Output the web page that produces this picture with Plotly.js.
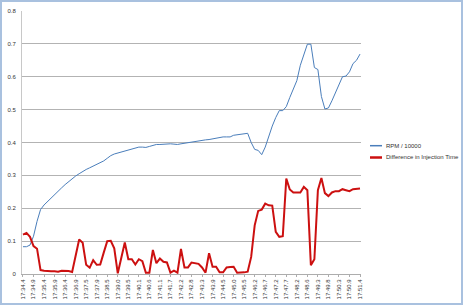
<!DOCTYPE html>
<html><head><meta charset="utf-8">
<script src="https://cdn.plot.ly/plotly-3.0.1.min.js"></script>
<style>
html,body{margin:0;padding:0;background:#fff}
#wrap{position:relative;width:463px;height:305px;overflow:hidden}
#chart{width:463px;height:305px}
#frame{position:absolute;left:0;top:0;width:463px;height:305px;box-sizing:border-box;border:2px solid #A9C1DF;pointer-events:none}
</style>
</head><body>
<div id="wrap"><div id="chart"></div><div id="frame"></div></div>
<script>
const tickLabels = ["17:34.4","17:34.9","17:35.4","17:35.9","17:36.4","17:36.9","17:37.5","17:37.9","17:38.5","17:39.0","17:39.5","17:40.1","17:40.6","17:41.1","17:41.7","17:42.2","17:42.8","17:43.3","17:43.9","17:44.5","17:45.0","17:45.5","17:46.2","17:46.7","17:47.2","17:47.7","17:48.2","17:48.6","17:49.3","17:49.8","17:50.3","17:50.9","17:51.4"];
const seriesNames = ["RPM / 10000", "Difference in Injection Time"];
const rpm = [
0.083,0.083,0.088,0.115,0.160,0.196,0.210,0.221,0.231,0.241,
0.252,0.262,0.272,0.281,0.290,0.298,0.305,0.312,0.318,0.323,
0.328,0.332,0.337,0.344,0.352,0.360,0.365,0.368,0.372,0.375,
0.378,0.381,0.384,0.386,0.386,0.385,0.388,0.391,0.394,0.394,
0.395,0.396,0.396,0.395,0.394,0.396,0.398,0.399,0.400,0.403,
0.406,0.408,0.408,0.409,0.411,0.414,0.417,0.417,0.417,0.417,
0.422,0.424,0.425,0.427,0.428,0.400,0.379,0.376,0.363,0.386,
0.420,0.450,0.476,0.497,0.497,0.509,0.537,0.562,0.588,0.635,
0.668,0.699,0.699,0.628,0.622,0.540,0.502,0.505,0.527,0.550,
0.578,0.600,0.602,0.615,0.640,0.650,0.669];
const injDiff = [
0.120,0.125,0.113,0.085,0.077,0.012,0.010,0.008,0.008,0.008,
0.007,0.010,0.010,0.009,0.006,0.055,0.105,0.095,0.028,0.019,
0.042,0.028,0.029,0.065,0.100,0.101,0.078,0.002,0.045,0.096,
0.045,0.045,0.029,0.045,0.039,0.004,0.004,0.073,0.033,0.047,
0.037,0.035,0.004,0.010,0.004,0.076,0.020,0.020,0.035,0.034,
0.031,0.020,0.004,0.063,0.022,0.022,0.005,0.005,0.020,0.021,
0.022,0.004,0.004,0.005,0.007,0.052,0.148,0.192,0.196,0.214,
0.209,0.208,0.128,0.113,0.115,0.290,0.257,0.248,0.248,0.248,
0.265,0.255,0.027,0.045,0.255,0.292,0.246,0.237,0.248,0.252,
0.252,0.258,0.255,0.252,0.258,0.260,0.260];
const tickStep = 3;

const xs = rpm.map((_, i) => i);
const tickVals = tickLabels.map((_, k) => k * tickStep);

const M = {l: 22, r: 102, t: 11, b: 31};
const W = 463, H = 305;
const pw = W - M.l - M.r, ph = H - M.t - M.b;
const px = x => (x - M.l) / pw;
const py = y => (H - M.b - y) / ph;

const colors = ["#4A7EBB", "#CC1010"];
const widths = [1, 2];

const traces = [
  {x: xs, y: rpm, type: "scatter", mode: "lines", name: seriesNames[0], line: {color: colors[0], width: widths[0]}},
  {x: xs, y: injDiff, type: "scatter", mode: "lines", name: seriesNames[1], line: {color: colors[1], width: widths[1]}}
];

const legY = [145.7, 157.5];
const shapes = legY.map((yy, k) => ({type: "line", xref: "paper", yref: "paper",
  x0: px(370), x1: px(382), y0: py(yy), y1: py(yy), line: {color: colors[k], width: k === 0 ? 1.5 : 2.5}}));
const annotations = legY.map((yy, k) => ({xref: "paper", yref: "paper", x: px(383.5), y: py(yy),
  xanchor: "left", yanchor: "middle", showarrow: false, text: seriesNames[k],
  font: {family: "Liberation Sans, Arial, sans-serif", size: 6, color: "#333"}}));

const layout = {
  width: W, height: H,
  margin: M,
  paper_bgcolor: "#fff", plot_bgcolor: "#fff",
  showlegend: false,
  font: {family: "Liberation Sans, Arial, sans-serif", size: 6, color: "#333"},
  xaxis: {range: [-0.28, 96.28], tickvals: tickVals, ticktext: tickLabels, tickangle: -90,
    showgrid: false, zeroline: false, showline: true, linecolor: "#ADADAD", linewidth: 1,
    ticks: "outside", ticklen: 2, tickcolor: "#ADADAD", tickfont: {size: 6, color: "#333"}},
  yaxis: {range: [0, 0.8], dtick: 0.1, tickformat: "", showgrid: true, gridcolor: "#B3B3B3", gridwidth: 1,
    zeroline: false, showline: true, linecolor: "#C8C8C8", linewidth: 1, ticks: "", ticklabelstandoff: 4,
    tickfont: {size: 6, color: "#333"}},
  shapes: shapes,
  annotations: annotations
};
Plotly.newPlot("chart", traces, layout, {staticPlot: true, displayModeBar: false});
</script>
</body></html>
